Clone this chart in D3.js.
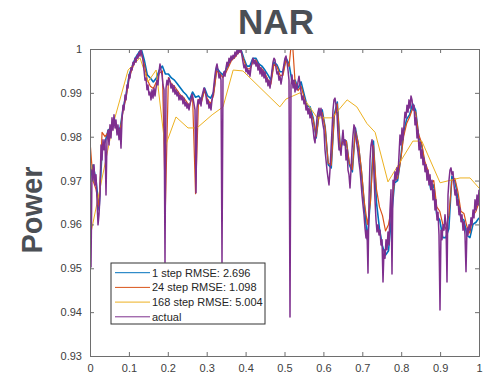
<!DOCTYPE html>
<html>
<head>
<meta charset="utf-8">
<script src="https://cdn.jsdelivr.net/npm/d3@7"></script>
<style>
  body { margin: 0; background: #fff; }
  svg { display: block; font-family: "Liberation Sans", Arial, sans-serif; }
</style>
</head>
<body>
<div id="chart"></div>
<script>
// actual power, evenly sampled over the normalised time axis [0, 1]
const actual = [
  0.9713,0.9503,0.9724,0.9701,0.9736,0.9690,0.9713,0.9656,0.9599,0.9622,
  0.9667,0.9781,0.9747,0.9793,0.9770,0.9793,0.9667,0.9793,0.9815,0.9781,
  0.9827,0.9797,0.9843,0.9815,0.9850,0.9820,0.9838,0.9804,0.9827,0.9793,
  0.9820,0.9774,0.9838,0.9872,0.9861,0.9895,0.9884,0.9918,0.9911,0.9941,
  0.9934,0.9957,0.9952,0.9970,0.9964,0.9979,0.9970,0.9986,0.9979,0.9993,
  0.9984,0.9998,0.9986,0.9975,0.9952,0.9929,0.9934,0.9907,0.9918,0.9895,
  0.9902,0.9884,0.9907,0.9888,0.9911,0.9893,0.9911,0.9929,0.9918,0.9948,
  0.9966,0.9952,0.9941,0.9918,0.9907,0.9514,0.9911,0.9929,0.9918,0.9934,
  0.9925,0.9911,0.9920,0.9902,0.9916,0.9897,0.9907,0.9893,0.9902,0.9884,
  0.9895,0.9884,0.9893,0.9875,0.9888,0.9870,0.9879,0.9865,0.9875,0.9861,
  0.9875,0.9884,0.9897,0.9888,0.9875,0.9861,0.9672,0.9865,0.9884,0.9875,
  0.9888,0.9870,0.9893,0.9902,0.9911,0.9907,0.9893,0.9875,0.9884,0.9865,
  0.9875,0.9861,0.9884,0.9897,0.9920,0.9941,0.9957,0.9966,0.9952,0.9934,
  0.9943,0.9929,0.9514,0.9934,0.9948,0.9938,0.9957,0.9970,0.9961,0.9979,
  0.9970,0.9984,0.9975,0.9986,0.9979,0.9993,0.9984,0.9998,0.9989,0.9998,
  0.9993,1.0000,0.9984,0.9970,0.9957,0.9964,0.9948,0.9957,0.9943,0.9952,
  0.9938,0.9957,0.9970,0.9979,0.9966,0.9975,0.9961,0.9970,0.9952,0.9966,
  0.9943,0.9957,0.9938,0.9952,0.9934,0.9948,0.9925,0.9934,0.9916,0.9929,
  0.9911,0.9929,0.9952,0.9970,0.9979,0.9975,0.9957,0.9943,0.9948,0.9929,
  0.9938,0.9920,0.9934,0.9952,0.9966,0.9979,0.9984,0.9970,0.9952,0.9929,
  0.9389,0.9918,0.9941,0.9911,0.9929,0.9902,0.9920,0.9907,0.9925,0.9938,
  0.9920,0.9902,0.9884,0.9893,0.9875,0.9884,0.9861,0.9870,0.9852,0.9865,
  0.9843,0.9856,0.9834,0.9820,0.9797,0.9786,0.9815,0.9843,0.9856,0.9865,
  0.9847,0.9865,0.9843,0.9827,0.9815,0.9770,0.9747,0.9724,0.9706,0.9690,
  0.9724,0.9770,0.9815,0.9861,0.9884,0.9888,0.9872,0.9850,0.9804,0.9770,
  0.9774,0.9758,0.9793,0.9815,0.9781,0.9793,0.9747,0.9770,0.9724,0.9713,
  0.9683,0.9724,0.9770,0.9804,0.9827,0.9820,0.9797,0.9781,0.9765,0.9742,
  0.9724,0.9697,0.9667,0.9644,0.9622,0.9592,0.9569,0.9587,0.9489,0.9656,
  0.9747,0.9781,0.9793,0.9770,0.9713,0.9656,0.9610,0.9583,0.9599,0.9576,
  0.9587,0.9553,0.9565,0.9469,0.9542,0.9523,0.9565,0.9542,0.9583,0.9553,
  0.9633,0.9679,0.9487,0.9701,0.9690,0.9720,0.9701,0.9729,0.9713,0.9758,
  0.9804,0.9781,0.9820,0.9793,0.9827,0.9856,0.9843,0.9872,0.9856,0.9884,
  0.9865,0.9893,0.9884,0.9861,0.9872,0.9827,0.9843,0.9797,0.9815,0.9770,
  0.9788,0.9751,0.9770,0.9736,0.9751,0.9720,0.9736,0.9701,0.9724,0.9690,
  0.9713,0.9679,0.9701,0.9656,0.9679,0.9633,0.9656,0.9610,0.9628,0.9576,
  0.9405,0.9587,0.9565,0.9599,0.9587,0.9622,0.9599,0.9469,0.9667,0.9701,
  0.9724,0.9729,0.9713,0.9720,0.9690,0.9667,0.9679,0.9644,0.9656,0.9622,
  0.9637,0.9606,0.9622,0.9587,0.9606,0.9576,0.9492,0.9592,0.9576,0.9599,
  0.9587,0.9615,0.9599,0.9633,0.9615,0.9656,0.9633,0.9667,0.9644,0.9679
];

// 1 step ahead prediction (coarser sampling over the same axis)
const step1 = [
  0.9700,0.9736,0.9701,0.9633,0.9770,0.9788,0.9815,0.9820,0.9843,0.9815,
  0.9820,0.9865,0.9897,0.9941,0.9961,0.9979,0.9990,1.0000,0.9975,0.9941,
  0.9934,0.9925,0.9934,0.9952,0.9961,0.9943,0.9943,0.9934,0.9929,0.9920,
  0.9911,0.9902,0.9895,0.9884,0.9902,0.9890,0.9893,0.9884,0.9911,0.9893,
  0.9888,0.9902,0.9957,0.9948,0.9941,0.9952,0.9966,0.9979,0.9984,0.9995,
  1.0000,0.9979,0.9961,0.9961,0.9979,0.9979,0.9966,0.9961,0.9952,0.9941,
  0.9929,0.9970,0.9964,0.9948,0.9948,0.9979,0.9966,0.9925,0.9929,0.9911,
  0.9925,0.9897,0.9870,0.9868,0.9843,0.9797,0.9856,0.9861,0.9820,0.9736,
  0.9729,0.9850,0.9879,0.9770,0.9793,0.9790,0.9736,0.9720,0.9820,0.9781,
  0.9720,0.9640,0.9565,0.9660,0.9790,0.9650,0.9590,0.9550,0.9530,0.9540,
  0.9620,0.9695,0.9700,0.9750,0.9810,0.9840,0.9850,0.9875,0.9860,0.9800,
  0.9780,0.9735,0.9720,0.9680,0.9690,0.9620,0.9610,0.9570,0.9570,0.9590,
  0.9710,0.9700,0.9660,0.9615,0.9610,0.9575,0.9570,0.9600,0.9605,0.9615
];

// 24 step ahead prediction
const step24 = [
  0.9790,0.9700,0.9680,0.9640,0.9810,0.9800,0.9810,0.9825,0.9840,0.9810,
  0.9815,0.9860,0.9890,0.9935,0.9955,0.9975,0.9985,0.9990,0.9965,0.9930,
  0.9915,0.9910,0.9925,0.9945,0.9950,0.9640,0.9935,0.9920,0.9915,0.9905,
  0.9895,0.9890,0.9880,0.9870,0.9895,0.9670,0.9885,0.9880,0.9905,0.9885,
  0.9875,0.9895,0.9950,0.9945,0.9935,0.9945,0.9960,0.9975,0.9980,0.9990,
  0.9995,0.9975,0.9955,0.9955,0.9970,0.9975,0.9960,0.9955,0.9945,0.9930,
  0.9920,0.9965,0.9960,0.9940,0.9940,0.9975,0.9960,1.0030,0.9925,0.9905,
  0.9915,0.9890,0.9865,0.9860,0.9840,0.9800,0.9850,0.9855,0.9820,0.9740,
  0.9735,0.9845,0.9875,0.9775,0.9790,0.9790,0.9740,0.9725,0.9815,0.9785,
  0.9725,0.9650,0.9600,0.9650,0.9780,0.9680,0.9640,0.9620,0.9585,0.9600,
  0.9640,0.9700,0.9705,0.9745,0.9800,0.9830,0.9845,0.9865,0.9855,0.9805,
  0.9785,0.9745,0.9725,0.9695,0.9700,0.9640,0.9630,0.9600,0.9590,0.9620,
  0.9700,0.9705,0.9675,0.9630,0.9625,0.9595,0.9580,0.9620,0.9630,0.9650
];

// 168 step ahead prediction (sparse)
const step168X = [0,0.059,0.098,0.1285,0.149,0.170,0.193,0.221,0.252,0.275,
  0.314,0.342,0.368,0.393,0.488,0.504,0.540,0.584,0.622,0.661,
  0.686,0.712,0.733,0.766,0.830,0.853,0.900,0.951,0.977,1.0];
const step168Y = [0.9570,0.9827,0.9952,0.9980,0.9925,0.9952,0.9777,0.9845,0.9820,0.9820,
  0.9850,0.9868,0.9952,0.9950,0.9868,0.9886,0.9900,0.9843,0.9843,0.9884,
  0.9868,0.9830,0.9810,0.9697,0.9790,0.9790,0.9695,0.9706,0.9706,0.9683];

const legendLabels = ['1 step RMSE: 2.696', '24 step RMSE: 1.098', '168 step RMSE: 5.004', 'actual'];
const colors = ['#0072BD', '#D95319', '#EDB120', '#7E2F8E'];
const widths = [1.6, 1.2, 1, 1.5];
const xTicks = [0, 0.1, 0.2, 0.3, 0.4, 0.5, 0.6, 0.7, 0.8, 0.9, 1];
const yTicks = [0.93, 0.94, 0.95, 0.96, 0.97, 0.98, 0.99, 1];

const W = 486, H = 376;
const margin = { top: 49, right: 7, bottom: 20, left: 90 };
const width = W - margin.left - margin.right,
      height = H - margin.top - margin.bottom;

const svg = d3.select('#chart').append('svg')
  .attr('width', W).attr('height', H);

const x = d3.scaleLinear().domain([0, 1]).range([0, width]);
const y = d3.scaleLinear().domain([0.93, 1]).range([height, 0]);

const main = svg.append('g')
  .attr('transform', 'translate(' + margin.left + ',' + margin.top + ')');

main.append('clipPath').attr('id', 'clip')
  .append('rect').attr('width', width).attr('height', height);

// series
const toPts = arr => arr.map((v, i) => [i / (arr.length - 1), v]);
const series = [
  toPts(step1),
  toPts(step24),
  step168X.map((t, i) => [t, step168Y[i]]),
  toPts(actual)
];

const line = d3.line().x(d => x(d[0])).y(d => y(d[1]));

const g = main.append('g').attr('clip-path', 'url(#clip)');
g.selectAll('path').data(series).enter().append('path')
  .attr('d', line)
  .attr('fill', 'none')
  .attr('stroke', (d, i) => colors[i])
  .attr('stroke-width', (d, i) => widths[i])
  .attr('stroke-linejoin', 'round');

// axes (MATLAB style box with inward ticks)
const axisColor = '#6e6e6e', textColor = '#404040';

const xAxis = d3.axisBottom(x).tickValues(xTicks).tickSize(-4).tickPadding(8)
  .tickFormat(d => d3.format('')(+d.toFixed(1)));
const xTop = d3.axisTop(x).tickValues(xTicks).tickSize(-4).tickFormat('');
const yAxis = d3.axisLeft(y).tickValues(yTicks).tickSize(-4).tickPadding(8)
  .tickFormat(d => d3.format('')(+d.toFixed(2)));
const yRight = d3.axisRight(y).tickValues(yTicks).tickSize(-4).tickFormat('');

main.append('g').attr('transform', 'translate(0,' + height + ')').call(xAxis);
main.append('g').call(xTop);
main.append('g').call(yAxis);
main.append('g').attr('transform', 'translate(' + width + ',0)').call(yRight);

main.selectAll('.domain').attr('stroke', axisColor);
main.selectAll('.tick line').attr('stroke', axisColor);
main.selectAll('.tick text').attr('fill', textColor).attr('font-size', 11)
  .attr('font-family', '"Liberation Sans", Arial, sans-serif');

// title and y label
svg.append('text')
  .attr('x', 276).attr('y', 34)
  .attr('text-anchor', 'middle')
  .attr('font-size', 35).attr('font-weight', 'bold')
  .attr('fill', '#4b4f55')
  .text('NAR');

svg.append('text')
  .attr('transform', 'translate(42,210) rotate(-90)')
  .attr('text-anchor', 'middle')
  .attr('font-size', 29).attr('font-weight', 'bold')
  .attr('fill', '#4b4f55')
  .text('Power');

// legend
const lg = svg.append('g').attr('transform', 'translate(111,263)');
lg.append('rect')
  .attr('width', 154).attr('height', 61)
  .attr('fill', '#fff').attr('stroke', '#333').attr('stroke-width', 1);

const rows = lg.selectAll('g.row').data(legendLabels).enter().append('g')
  .attr('class', 'row')
  .attr('transform', (d, i) => 'translate(0,' + (9.7 + i * 14.7) + ')');
rows.append('line')
  .attr('x1', 4).attr('x2', 39)
  .attr('stroke', (d, i) => colors[i]).attr('stroke-width', 1);
rows.append('text')
  .attr('x', 41).attr('dy', '0.35em')
  .attr('font-size', 11).attr('fill', '#262626')
  .text(d => d);
</script>
</body>
</html>
